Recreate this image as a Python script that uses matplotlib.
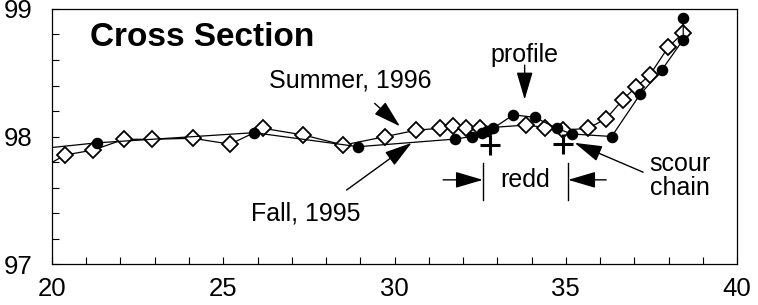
import matplotlib

matplotlib.use("Agg")
import matplotlib.pyplot as plt
from matplotlib.ticker import MultipleLocator

# Fall, 1995 survey (filled circles)
FALL_X = [19.5, 21.30, 25.90, 28.94, 31.77, 32.25, 32.55, 32.69, 32.88, 33.47,
          34.10, 34.74, 35.17, 36.34, 37.17, 37.80, 38.43, 38.43]
FALL_Y = [97.90, 97.95, 98.03, 97.92, 97.98, 98.00, 98.025, 98.045, 98.064, 98.17,
          98.15, 98.064, 98.02, 98.00, 98.33, 98.52, 98.76, 98.93]

# Summer, 1996 survey (open diamonds)
SUMMER_X = [19.7, 20.38, 21.21, 22.10, 22.91, 24.11, 25.20, 26.17, 27.34, 28.51,
            29.71, 30.64, 31.32, 31.71, 32.10, 32.49, 33.85, 34.39, 34.92, 35.65,
            36.18, 36.67, 37.06, 37.45, 37.99, 38.42]
SUMMER_Y = [97.75, 97.855, 97.894, 97.978, 97.978, 97.986, 97.94, 98.064, 98.012, 97.933,
            97.998, 98.05, 98.064, 98.08, 98.064, 98.064, 98.09, 98.07, 98.05, 98.064,
            98.14, 98.29, 98.39, 98.48, 98.70, 98.81]

# scour chain positions
CHAIN_X = [32.79, 34.93]
CHAIN_Y = [97.935, 97.94]

# redd limits
REDD_X = [32.58, 35.07]

plt.rcParams.update({
    "font.family": ["Liberation Sans", "DejaVu Sans"],
    "font.size": 18,
})

fig = plt.figure(figsize=(7.58, 3.05), dpi=100)
ax = fig.add_axes([0.0686, 0.1344, 0.9037, 0.8361])

ax.plot(SUMMER_X, SUMMER_Y, color="black", linewidth=0.9, marker="D",
        markersize=7.8, markerfacecolor="white", markeredgecolor="black",
        markeredgewidth=1.3, zorder=3)
ax.plot(FALL_X, FALL_Y, color="black", linewidth=0.9, marker="o",
        markersize=7.3, markerfacecolor="black", markeredgecolor="black", zorder=4)
ax.plot(CHAIN_X, CHAIN_Y, linestyle="none", marker="+", markersize=14,
        markeredgewidth=2.2, color="black", zorder=5)

ax.set_xlim(20, 40)
ax.set_ylim(97, 99)
ax.xaxis.set_major_locator(MultipleLocator(5))
ax.xaxis.set_minor_locator(MultipleLocator(1))
ax.yaxis.set_major_locator(MultipleLocator(1))
ax.yaxis.set_minor_locator(MultipleLocator(0.2))
ax.tick_params(which="both", direction="in", length=5, width=0.8,
               labelsize=18.5)
ax.tick_params(axis="x", which="major", pad=9)
ax.tick_params(axis="y", which="major", pad=14)
for spine in ax.spines.values():
    spine.set_linewidth(0.9)

ax.text(21.11, 98.78, "Cross Section", fontsize=24, fontweight="bold",
        ha="left", va="center")

arrow = dict(arrowstyle="-|>,head_length=0.95,head_width=0.28", color="black",
             linewidth=1.0, shrinkA=0, shrinkB=0)

ax.text(28.70, 98.44, "Summer, 1996", fontsize=18, ha="center", va="center")
ax.annotate("", xy=(30.16, 98.08), xytext=(29.42, 98.26), arrowprops=arrow)

ax.text(27.42, 97.40, "Fall, 1995", fontsize=18, ha="center", va="center")
ax.annotate("", xy=(30.50, 97.95), xytext=(28.60, 97.58), arrowprops=arrow)

ax.text(33.80, 98.64, "profile", fontsize=18, ha="center", va="center")
ax.annotate("", xy=(33.80, 98.29), xytext=(33.80, 98.56), arrowprops=arrow)

ax.text(37.45, 97.69, "scour\nchain", fontsize=18, ha="left", va="center",
        linespacing=1.0)
ax.annotate("", xy=(35.26, 97.95), xytext=(37.26, 97.72), arrowprops=arrow)

for xr in REDD_X:
    ax.plot([xr, xr], [97.50, 97.79], color="black", linewidth=1.0)
ax.text(33.82, 97.66, "redd", fontsize=18, ha="center", va="center")
ax.annotate("", xy=(REDD_X[0], 97.66), xytext=(31.42, 97.66), arrowprops=arrow)
ax.annotate("", xy=(REDD_X[1], 97.66), xytext=(36.18, 97.66), arrowprops=arrow)

fig.savefig("out.png", dpi=100)
